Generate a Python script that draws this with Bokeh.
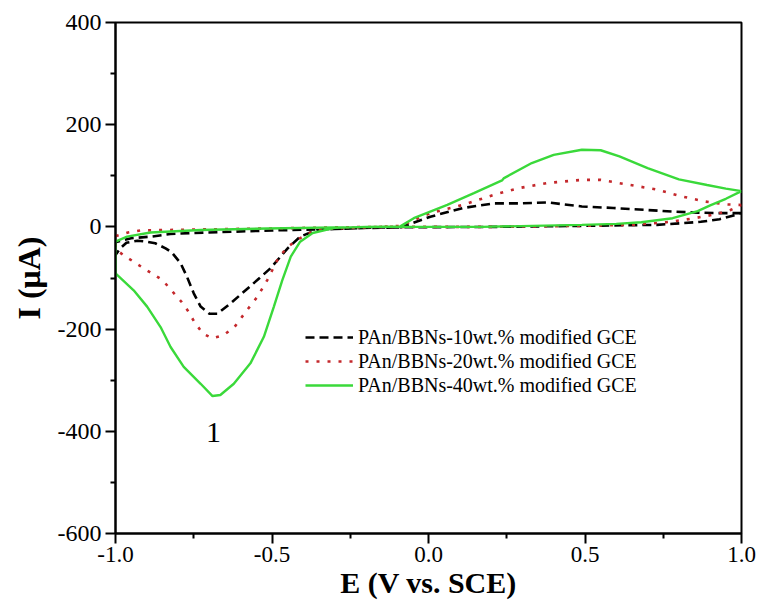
from bokeh.plotting import figure
from bokeh.models import (FixedTicker, PrintfTickFormatter, Legend, LegendItem)
from bokeh.core.properties import value
from bokeh.embed import file_html
from bokeh.resources import INLINE

# ---- data ----
# 10 wt.% (black dashed)
e10 = [1.0, 0.93, 0.86, 0.78, 0.70, 0.59, 0.49, 0.38, 0.29, 0.21, 0.11, 0.006, -0.09,
       -0.20, -0.30, -0.356, -0.41, -0.45, -0.505, -0.547, -0.59, -0.633, -0.675, -0.70,
       -0.728, -0.75, -0.772, -0.792, -0.82, -0.84, -0.873, -0.90, -0.93, -0.965, -0.985, -1.0,
       -1.0, -0.95, -0.884, -0.825, -0.756, -0.5, -0.3, -0.15, 0.2, 0.49, 0.73, 0.805, 0.87,
       0.93, 0.986, 1.0]
i10 = [27, 27, 28, 30, 33, 37, 40, 48, 46, 46, 37, 20, -1,
       -2, -4, -6, -19, -42, -81, -104, -127, -150, -170, -170,
       -156, -130, -97, -71, -50, -42, -32, -29, -27, -31, -42, -55,
       -30, -22, -19, -14, -12, -7, -4, -1, 0, 2, 4, 7, 10,
       15, 24, 27]

# 20 wt.% (red dotted)
e20 = [1.0, 0.95, 0.88, 0.80, 0.73, 0.645, 0.55, 0.49, 0.38, 0.29, 0.21, 0.11, 0.006, -0.09,
       -0.20, -0.30, -0.36, -0.41, -0.45, -0.48, -0.515, -0.547, -0.58, -0.62, -0.655, -0.69,
       -0.72, -0.745, -0.77, -0.79, -0.85, -0.91, -0.96, -0.975, -0.99, -1.0,
       -1.0, -0.96, -0.92, -0.73, -0.5, -0.3, -0.15, 0.2, 0.49, 0.65, 0.76, 0.85, 0.92,
       0.965, 1.0]
i20 = [43, 44, 50, 61, 73, 82, 92, 92, 86, 76, 63, 43, 27, 2,
       -1, -3, -6, -22, -39, -61, -104, -137, -163, -196, -212, -218,
       -209, -189, -163, -146, -104, -81, -61, -55, -48, -43,
       -18, -11, -7, -5, -3, -1, 0, 0, 2, 4, 9, 17, 25,
       33, 43]

# 40 wt.% (green solid)
e40 = [1.0, 0.95, 0.89, 0.80, 0.70, 0.61, 0.55, 0.49, 0.40, 0.33, 0.24, 0.235, 0.145, 0.06,
       -0.047, -0.09, -0.20, -0.30, -0.37, -0.41, -0.44, -0.467, -0.494, -0.526, -0.569,
       -0.622, -0.665, -0.69, -0.728, -0.782, -0.824, -0.856, -0.899, -0.942, -1.0,
       -1.0, -0.963, -0.888, -0.728, -0.515, -0.30, -0.15, 0.17, 0.49, 0.60, 0.68, 0.78,
       0.86, 0.90, 0.95, 1.0]
i40 = [70, 75, 82, 93, 115, 138, 150, 151, 141, 125, 95, 91, 66, 43,
       17, 1, 0, -2, -12, -29, -58, -104, -156, -215, -267,
       -307, -329, -331, -307, -274, -235, -196, -156, -124, -91,
       -29, -19, -11, -6, -3, -1, 0, 0, 4, 6, 9, 17,
       31, 42, 55, 70]

labels = ["PAn/BBNs-10wt.% modified GCE",
          "PAn/BBNs-20wt.% modified GCE",
          "PAn/BBNs-40wt.% modified GCE"]

x_major = [-1.0, -0.5, 0.0, 0.5, 1.0]
x_minor = [-0.75, -0.25, 0.25, 0.75]
y_major = [-600, -400, -200, 0, 200, 400]
y_minor = [-500, -300, -100, 100, 300]

peak_label_x = [-0.687]
peak_label_y = [-402]
peak_label = ["1"]

SERIF = "Liberation Serif"

p = figure(width=758, height=609, x_range=(-1.0, 1.0), y_range=(-600, 400),
           output_backend="svg", toolbar_location=None,
           min_border_left=115, min_border_right=17, min_border_top=22,
           min_border_bottom=76)
p.background_fill_color = "white"
p.border_fill_color = "white"
p.grid.visible = False
p.outline_line_color = "black"
p.outline_line_width = 2

for ax in (p.xaxis[0], p.yaxis[0]):
    ax.axis_line_width = 2
    ax.axis_line_color = "black"
    ax.major_tick_line_width = 2
    ax.minor_tick_line_width = 2
    ax.major_tick_out = 10
    ax.major_tick_in = 0
    ax.minor_tick_out = 5
    ax.minor_tick_in = 0
    ax.major_label_text_font = SERIF
    ax.major_label_text_color = "black"
    ax.axis_label_text_font = SERIF
    ax.axis_label_text_font_style = "bold"
    ax.axis_label_text_color = "black"

p.xaxis.ticker = FixedTicker(ticks=x_major, minor_ticks=x_minor)
p.yaxis.ticker = FixedTicker(ticks=y_major, minor_ticks=y_minor)
p.xaxis.formatter = PrintfTickFormatter(format="%.1f")
p.yaxis.formatter = PrintfTickFormatter(format="%d")
p.xaxis.major_label_text_font_size = "23px"
p.yaxis.major_label_text_font_size = "24px"
p.xaxis.major_label_standoff = 3
p.yaxis.major_label_standoff = 4
p.xaxis.axis_label = "E (V vs. SCE)"
p.yaxis.axis_label = "I (\u03bcA)"
p.xaxis.axis_label_text_font_size = "30px"
p.yaxis.axis_label_text_font_size = "32px"
p.xaxis.axis_label_standoff = 1
p.yaxis.axis_label_standoff = 8

r10 = p.line(e10, i10, line_color="black", line_width=2.6, line_dash="9 5")
r20 = p.line(e20, i20, line_color="#c4282c", line_width=2.6, line_dash="3 8")
r40 = p.line(e40, i40, line_color="#3ad93a", line_width=2.4)

p.text(x=peak_label_x, y=peak_label_y, text=peak_label,
       text_font=value(SERIF), text_font_size="30px", text_color="black",
       text_align="center", text_baseline="middle")

legend = Legend(items=[LegendItem(label=labels[0], renderers=[r10]),
                       LegendItem(label=labels[1], renderers=[r20]),
                       LegendItem(label=labels[2], renderers=[r40])],
                location=(190, 136), padding=0, margin=0, spacing=0,
                glyph_width=48, glyph_height=24, label_height=24,
                label_standoff=5, border_line_color=None,
                background_fill_alpha=0,
                label_text_font=SERIF, label_text_font_size="20px",
                label_text_color="black")
p.add_layout(legend, "center")

open("out.html", "w").write(file_html(p, INLINE))
